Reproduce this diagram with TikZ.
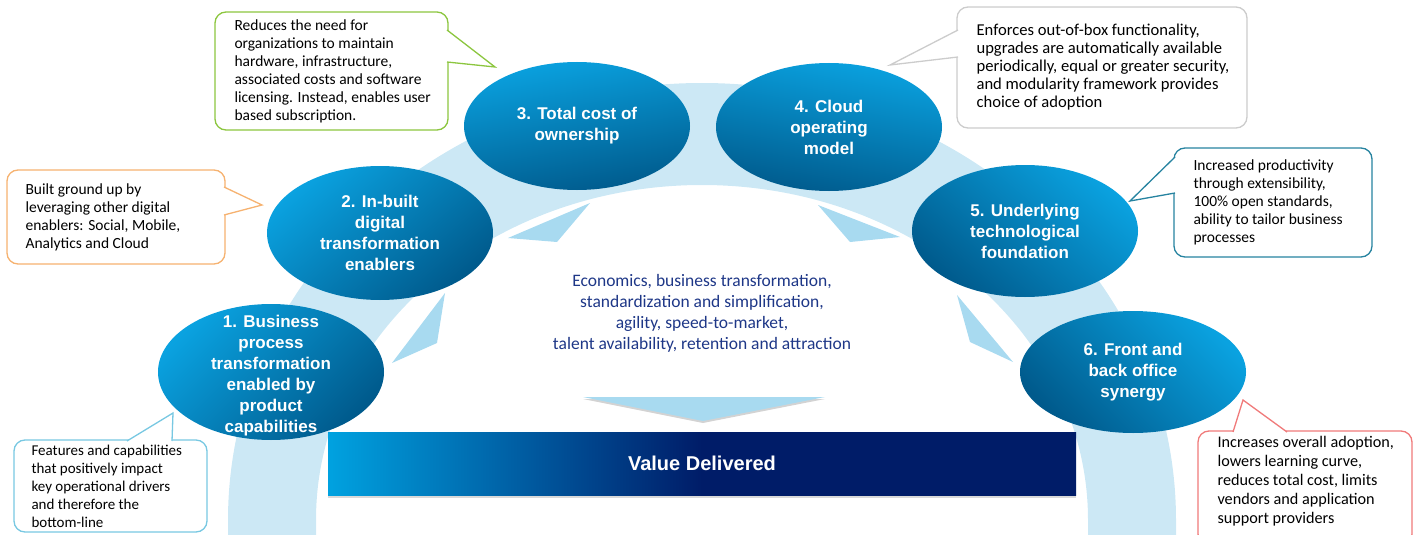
\documentclass[tikz,border=0pt]{standalone}
\usepackage{fontspec}
\setmainfont{Carlito}
\newfontfamily\headfont{Liberation Sans}
\usepackage{tikz}
\usetikzlibrary{positioning}
\usetikzlibrary{shapes.geometric}
\usetikzlibrary{shadows}

\definecolor{bandblue}{RGB}{204,232,245}
\definecolor{tipblue}{RGB}{168,218,240}
\definecolor{ballhi}{RGB}{10,162,224}
\definecolor{balllo}{RGB}{0,90,140}
\definecolor{barlight}{RGB}{0,162,224}
\definecolor{barnavy}{RGB}{0,28,104}
\definecolor{textnavy}{RGB}{30,55,135}
\definecolor{noteorange}{RGB}{246,178,112}
\definecolor{notegreen}{RGB}{140,198,63}
\definecolor{notegray}{RGB}{204,204,204}
\definecolor{noteteal}{RGB}{38,131,160}
\definecolor{notesky}{RGB}{120,200,226}
\definecolor{notered}{RGB}{240,122,122}

\begin{document}
\begin{tikzpicture}[x=1pt, y=-1pt,
                          bubble/.style={ellipse, draw=none, inner sep=0pt, minimum width=226pt, top color=ballhi, bottom color=balllo},
                          bubtext/.style={text=white, align=center, inner sep=0pt, font=\headfont\bfseries\fontsize{17}{21}\selectfont},
                          notebox/.style={fill=white, rounded corners=11pt, line width=1.3pt, inner sep=0pt},
                          notetext/.style={anchor=west, align=left, inner sep=0pt, font=\fontsize{15.5}{18}\selectfont},
                          noteline/.style={line width=1.3pt},
                          arrowhd/.style={fill=tipblue},
                          valuebar/.style={left color=barlight, right color=barnavy, middle color=barnavy, text=white, font=\headfont\bfseries\fontsize{20}{24}\selectfont, drop shadow={opacity=0.3, shadow xshift=0pt, shadow yshift=-3pt}},
                      ]
                      \useasboundingbox (0,0) rectangle (1417,535);

                      %Arch
                      \fill[bandblue] (228,535) -- (228,520) arc[start angle=180, end angle=0, x radius=474pt, y radius=437pt] -- (1176,535) -- (1088,535) -- (1088,520) arc[start angle=0, end angle=180, x radius=386pt, y radius=335pt] -- (316,535) -- cycle;
                      \fill[arrowhd] (508,238) -- (590,203) -- (557,242) -- cycle;
                      \fill[arrowhd] (445,293) -- (392,363) -- (437,343) -- cycle;
                      \fill[arrowhd] (818,205) -- (900,237) -- (850,242) -- cycle;
                      \fill[arrowhd] (957,295) -- (1013,362) -- (970,342) -- cycle;
                      \fill[arrowhd, drop shadow={opacity=0.35, shadow xshift=0pt, shadow yshift=-2pt}] (583,397) -- (825,397) -- (703,421) -- cycle;

                      %Nodes
                      \node[text=textnavy, align=center, font=\fontsize{17.5}{21}\selectfont] (goal) at (702,313) {Economics, business transformation,\\standardization and simplification,\\agility, speed-to-market,\\talent availability, retention and attraction};
                      \node[valuebar, minimum width=748pt, minimum height=63pt] (value) at (702,463.5) {Value Delivered};

                      \node[notebox, draw=noteorange, minimum width=218pt, minimum height=94pt] (n2) at (116,217) {};
                      \node[notebox, draw=notegreen, minimum width=233pt, minimum height=118pt] (n3) at (331.5,71) {};
                      \node[notebox, draw=notegray, minimum width=290pt, minimum height=121pt] (n4) at (1102,67.5) {};
                      \node[notebox, draw=noteteal, minimum width=198pt, minimum height=109pt] (n5) at (1273,202.5) {};
                      \node[notebox, draw=notesky, minimum width=193pt, minimum height=92pt] (n1) at (110.5,486) {};
                      \node[notebox, draw=notered, minimum width=214pt, minimum height=114pt] (n6) at (1305,488) {};

                      %Pointers
                      \coordinate (n2a) at (224,187);   \coordinate (n2tip) at (262,205);  \coordinate (n2b) at (224,215);
                      \coordinate (n3a) at (447,30);    \coordinate (n3tip) at (495,67);   \coordinate (n3b) at (447,62);
                      \coordinate (n4a) at (958,30);    \coordinate (n4tip) at (890,65);   \coordinate (n4b) at (958,57);
                      \coordinate (n5a) at (1175,157);  \coordinate (n5tip) at (1130,201); \coordinate (n5b) at (1175,193);
                      \coordinate (n1a) at (127,441);   \coordinate (n1tip) at (173,413);  \coordinate (n1b) at (172,441);
                      \coordinate (n6a) at (1233,432);  \coordinate (n6tip) at (1243,400); \coordinate (n6b) at (1287,432);
                      \fill[white] (n2a) -- (n2tip) -- (n2b) -- cycle; \draw[noteline, noteorange] (n2a) -- (n2tip) -- (n2b);
                      \fill[white] (n3a) -- (n3tip) -- (n3b) -- cycle; \draw[noteline, notegreen] (n3a) -- (n3tip) -- (n3b);
                      \fill[white] (n4a) -- (n4tip) -- (n4b) -- cycle; \draw[noteline, notegray] (n4a) -- (n4tip) -- (n4b);
                      \fill[white] (n5a) -- (n5tip) -- (n5b) -- cycle; \draw[noteline, noteteal] (n5a) -- (n5tip) -- (n5b);
                      \fill[white] (n1a) -- (n1tip) -- (n1b) -- cycle; \draw[noteline, notesky] (n1a) -- (n1tip) -- (n1b);
                      \fill[white] (n6a) -- (n6tip) -- (n6b) -- cycle; \draw[noteline, notered] (n6a) -- (n6tip) -- (n6b);

                      %Note texts
                      \node[notetext] (n2t) at ([xshift=19pt]n2.west) {Built ground up by\\leveraging other digital\\enablers: Social, Mobile,\\Analytics and Cloud};
                      \node[notetext] (n3t) at ([xshift=20pt]n3.west) {Reduces the need for\\organizations to maintain\\hardware, infrastructure,\\associated costs and software\\licensing. Instead, enables user\\based subscription.};
                      \node[notetext, font=\fontsize{16.6}{18}\selectfont] (n4t) at ([xshift=20pt]n4.west) {Enforces out-of-box functionality,\\upgrades are automatically available\\periodically, equal or greater security,\\and modularity framework provides\\choice of adoption};
                      \node[notetext] (n5t) at ([xshift=20pt]n5.west) {Increased productivity\\through extensibility,\\100\% open standards,\\ability to tailor business\\processes};
                      \node[notetext, font=\fontsize{15}{18}\selectfont] (n1t) at ([xshift=18pt]n1.west) {Features and capabilities\\that positively impact\\key operational drivers\\and therefore the\\bottom-line};
                      \node[notetext, font=\fontsize{16.2}{19}\selectfont] (n6t) at ([xshift=20pt, yshift=7pt]n6.west) {Increases overall adoption,\\lowers learning curve,\\reduces total cost, limits\\vendors and application\\support providers};

                      %Bubbles
                      \node[bubble, shading angle=45, minimum height=136pt] (b1) at (271,372) {};
                      \node[bubble, shading angle=40, minimum height=134pt] (b2) at (380,233) {};
                      \node[bubble, shading angle=10, minimum height=128pt] (b3) at (577,126) {};
                      \node[bubble, shading angle=-10, minimum height=128pt] (b4) at (829,127) {};
                      \node[bubble, shading angle=-40, minimum height=132pt] (b5) at (1025,231) {};
                      \node[bubble, shading angle=-45, minimum height=122pt] (b6) at (1133,372) {};
                      \node[bubtext, yshift=-4pt] (t1) at (b1) {1. Business\\process\\transformation\\enabled by\\product\\capabilities};
                      \node[bubtext] (t2) at (b2) {2. In-built\\digital\\transformation\\enablers};
                      \node[bubtext] (t3) at (b3) {3. Total cost of\\ownership};
                      \node[bubtext] (t4) at (b4) {4. Cloud\\operating\\model};
                      \node[bubtext] (t5) at (b5) {5. Underlying\\technological\\foundation};
                      \node[bubtext] (t6) at (b6) {6. Front and\\back office\\synergy};
                  \end{tikzpicture}
\end{document}
